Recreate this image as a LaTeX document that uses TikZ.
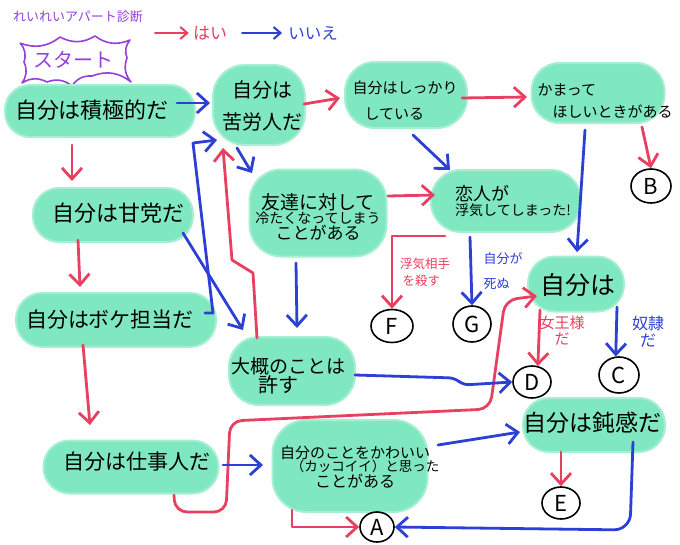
\documentclass[tikz,border=0pt]{standalone}
\usepackage{fontspec}
\setmainfont{Noto Sans CJK JP}
\usetikzlibrary{arrows.meta,calc,shapes.geometric}
\definecolor{mint}{RGB}{128,232,192}
\definecolor{yescol}{RGB}{232,64,96}
\definecolor{nocol}{RGB}{44,64,214}
\definecolor{startcol}{RGB}{150,64,220}
\tikzset{
  blob/.style={fill=mint, draw=mint!70, line width=2pt, inner sep=0pt},
  txt/.style={inner sep=0pt, text=black, align=center},
  fs/.style={font=\fontsize{#1}{#1}\selectfont},
  endc/.style={draw=black, line width=1.6pt, ellipse, minimum width=40pt, minimum height=34pt, inner sep=0pt, font=\fontsize{22}{22}\selectfont},
  yesarr/.style={draw=yescol, line width=2.8pt, line cap=round, line join=round, -{Straight Barb[length=11pt,width=20pt]}},
  noarr/.style={draw=nocol, line width=2.8pt, line cap=round, line join=round, -{Straight Barb[length=11pt,width=20pt]}},
  edgelab/.style={inner sep=0pt, align=left},
}
\begin{document}
\begin{tikzpicture}[x=1pt,y=-1pt]
\fill[white] (0,0) rectangle (680,544);
\useasboundingbox (0,0) rectangle (680,544);

% title and start
\node[inner sep=0pt, text=startcol, fs=13] (title) at (78,17) {れいれいアパート診断};
\node[inner sep=0pt, text=startcol, fs=20] (start) at (73,60) {スタート};
\draw[startcol, line width=1.6pt, line join=round]
  (20,43) to[bend right=30] (60,37) to[bend right=30] (95,36) to[bend right=30] (130,40)
  to[bend right=30] (127,58) to[bend right=30] (131,82) to[bend right=30] (92,76)
  to[bend right=30] (72,86) to[bend right=30] (47,82) to[bend right=30] (22,83)
  to[bend right=30] (24,62) to[bend right=30] (20,43);

% legend
\node[inner sep=0pt, text=yescol, fs=17] (lyes) at (210,33) {はい};
\node[inner sep=0pt, text=nocol, fs=16.5] (lno) at (313,33) {いいえ};
\coordinate (lyA) at (155,33);
\coordinate (lnA) at (242,33);
\draw[draw=yescol, line width=2pt, line cap=round, -{Straight Barb[length=7pt,width=12pt]}] (lyA) -- ($(lyes.west)+(-4,0)$);
\draw[draw=nocol, line width=2pt, line cap=round, -{Straight Barb[length=7pt,width=12pt]}] (lnA) -- ($(lno.west)+(-6,0)$);

% blobs
\node[blob, minimum width=190pt, minimum height=52pt, rounded corners=25pt] (n1) at (100,111) {};
\node[blob, minimum width=92pt, minimum height=80pt, rounded corners=32pt] (n2) at (259,105) {};
\node[blob, minimum width=122pt, minimum height=66pt, rounded corners=30pt] (n3) at (406,95) {};
\node[blob, minimum width=133pt, minimum height=60pt, rounded corners=28pt] (n4) at (598,93) {};
\node[blob, minimum width=160pt, minimum height=54pt, rounded corners=26pt] (n5) at (113,215) {};
\node[blob, minimum width=137pt, minimum height=87pt, rounded corners=32pt] (n6) at (318,213) {};
\node[blob, minimum width=150pt, minimum height=62pt, rounded corners=30pt] (n7) at (506,201) {};
\node[blob, minimum width=200pt, minimum height=54pt, rounded corners=26pt] (n8) at (116,320) {};
\node[blob, minimum width=126pt, minimum height=68pt, rounded corners=30pt] (n9) at (292,371) {};
\node[blob, minimum width=96pt, minimum height=55pt, rounded corners=27pt] (n10) at (576,284) {};
\node[blob, minimum width=175pt, minimum height=53pt, rounded corners=26pt] (n11) at (131,467) {};
\node[blob, minimum width=155pt, minimum height=92pt, rounded corners=34pt] (n12) at (350,466) {};
\node[blob, minimum width=142pt, minimum height=54pt, rounded corners=26pt] (n13) at (594,425) {};

% texts
\node[txt, fs=22] (t1) at (92,110) {自分は積極的だ};
\node[txt, font=\fontsize{20}{32}\selectfont] (t2) at (262,106) {自分は\\苦労人だ};
\node[txt, font=\fontsize{15}{26}\selectfont, align=left] (t3) at (405,101) {自分はしっかり\\\hspace*{0.8em}している};
\node[txt, font=\fontsize{15}{22}\selectfont, align=left] (t4) at (605,101) {かまって\\\hspace*{1em}ほしいときがある};
\node[txt, fs=22] (t5) at (118,213) {自分は甘党だ};
\node[txt] (t6) at (318,217) {{\fontsize{19}{25}\selectfont 友達に対して}\\{\fontsize{14}{25}\selectfont 冷たくなってしまう}\\{\fontsize{17}{25}\selectfont ことがある}};
\node[txt, align=left] (t7) at (513,201) {{\fontsize{18}{24}\selectfont 恋人が}\\{\fontsize{14}{24}\selectfont 浮気してしまった!}};
\node[txt, fs=21] (t8) at (110,320) {自分はボケ担当だ};
\node[txt] (t9) at (288,376) {{\fontsize{19}{30}\selectfont 大概のことは}\\{\fontsize{20}{30}\selectfont 許す\hspace*{1em}}};
\node[txt, fs=25] (t10) at (578,285) {自分は};
\node[txt, fs=21] (t11) at (137,462) {自分は仕事人だ};
\node[txt] (t12) at (355,467) {{\fontsize{15}{28}\selectfont 自分のことをかわいい}\\{\fontsize{13.5}{28}\selectfont \hspace*{1.5em}（カッコイイ）と思った}\\{\fontsize{16}{28}\selectfont ことがある}};
\node[txt, fs=23] (t13) at (592,423) {自分は鈍感だ};

% end circles
\node[endc] (B) at (651,186) {B};
\node[endc, minimum width=42pt, minimum height=33pt] (F) at (392,326) {F};
\node[endc, minimum width=38pt, minimum height=36pt] (G) at (472,324) {G};
\node[endc, minimum width=38pt, minimum height=32pt] (D) at (532,382) {D};
\node[endc, minimum width=40pt, minimum height=36pt] (C) at (619,375) {C};
\node[endc, minimum width=38pt, minimum height=32pt] (E) at (561,503) {E};
\node[endc, minimum width=34pt, minimum height=30pt] (A) at (377,527) {A};

% edge labels
\node[edgelab, text=yescol, font=\fontsize{12.5}{17}\selectfont] (lF) at (425,272) {浮気相手\\\hspace*{0.2em}を殺す};
\node[edgelab, text=nocol, font=\fontsize{13}{25}\selectfont] (lG) at (503,271) {自分が\\死ぬ};
\node[edgelab, text=yescol, font=\fontsize{15}{16}\selectfont, align=center] (lD) at (562,331) {女王様\\だ};
\node[edgelab, text=nocol, font=\fontsize{16}{17}\selectfont, align=center] (lC) at (648,332) {奴隷\\だ};

% yes (red) connectors
\draw[yesarr] ($(n1)+(-28,34)$) -- ($(n5)+(-41,-34)$);
\draw[yesarr] ($(n5)+(-35,25)$) -- ($(n8)+(-36,-33)$);
\draw[yesarr] ($(n8)+(-33,25)$) -- ($(n11)+(-41,-42)$);
\draw[yesarr] ($(n2)+(45,-1)$) -- ($(n3)+(-66,3)$);
\draw[yesarr] ($(n3)+(56,3)$) -- ($(n4)+(-71,4)$);
\draw[yesarr] ($(n4)+(44,34)$) -- (B.north);
\draw[yesarr] ($(n6)+(70,-17)$) -- ($(n7)+(-71,-6)$);
\draw[yesarr] ($(n7)+(-61,35)$) -| (F.north);
\draw[yesarr] ($(n10)+(-36,26)$) -- (D.70);
\draw[yesarr] ($(n13)+(-33,27)$) -- (E.north);
\draw[yesarr] ($(n9)+(-35,-33)$) -- (253,273) -- (232,260) -- ($(n2)+(-36,43)$);
\draw[yesarr, rounded corners=12pt] ($(n11)+(43,28)$) -- (175,512) -- (226,512) -- (230,421) -- (490,409) -- (505,300) -- ($(n10)+(-39,12)$);
\draw[yesarr] ($(n12)+(-58,44)$) |- (A.west);

% no (blue) connectors
\draw[noarr] ($(n1)+(77,-8)$) -- ($(n2)+(-49,-2)$);
\draw[noarr] ($(n5)+(70,18)$) -- ($(n9)+(-49,-41)$);
\draw[noarr] ($(n8)+(89,-7)$) -- (213,313) -- (193,143) -- ($(n2)+(-42,35)$);
\draw[noarr] ($(n2)+(-22,43)$) -- ($(n6)+(-66,-40)$);
\draw[noarr] ($(n3)+(7,40)$) -- ($(n7)+(-56,-31)$);
\draw[noarr] ($(n4)+(-13,37)$) -- ($(n10)+(1,-32)$);
\draw[noarr] ($(n6)+(-22,50)$) -- ($(n9)+(5,-43)$);
\draw[noarr] ($(n7)+(-36,36)$) -- (G.north);
\draw[noarr] ($(n10)+(41,23)$) -- (C.100);
\draw[noarr, rounded corners=6pt] ($(n9)+(63,4)$) -- (455,378) -- (463,385) -- (D.west);
\draw[noarr] ($(n11)+(92,-2)$) -- ($(n12)+(-87,-1)$);
\draw[noarr] ($(n12)+(88,-21)$) -- ($(n13)+(-74,7)$);
\draw[noarr, rounded corners=16pt] ($(n13)+(39,17)$) -- (630,530) -- (A.east);
\end{tikzpicture}
\end{document}
